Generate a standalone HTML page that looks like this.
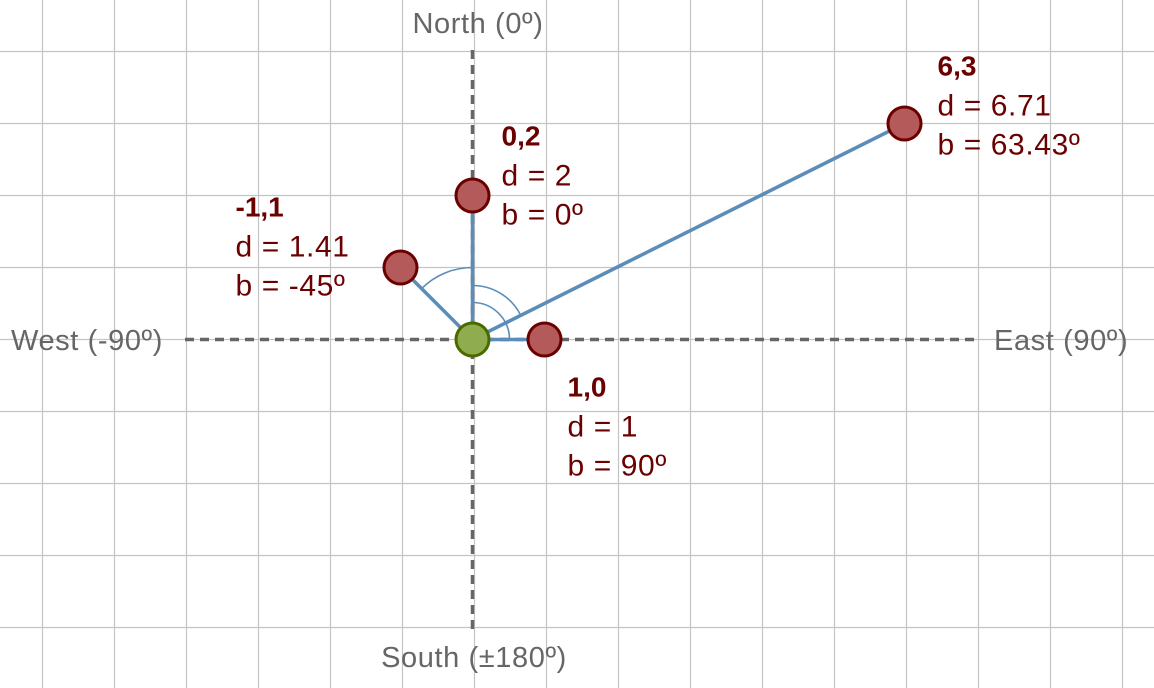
<!DOCTYPE html>
<html><head><meta charset="utf-8"><style>
html,body{margin:0;padding:0;background:#fff;}
svg{display:block;font-family:"Liberation Sans",sans-serif;}
</style></head><body>
<svg id="chart" width="1154" height="688" viewBox="0 0 1154 688">
<g id="grid"></g>
<line x1="185" y1="339.5" x2="978" y2="339.5" stroke="#666" stroke-width="3.5" stroke-dasharray="9,6"/>
<line x1="472.5" y1="50" x2="472.5" y2="632" stroke="#666" stroke-width="3.5" stroke-dasharray="9,6"/>
<text x="478" y="33" text-anchor="middle" font-size="29" letter-spacing="0.6" fill="#666">North (0º)</text>
<text x="474" y="667" text-anchor="middle" font-size="29" letter-spacing="0.6" fill="#666">South (±180º)</text>
<text x="11" y="350" font-size="29" letter-spacing="0.6" fill="#666">West (-90º)</text>
<text x="994" y="350" font-size="29" letter-spacing="0.6" fill="#666">East (90º)</text>
<g id="arcs"></g>
<g id="lines"></g>
<g id="points"></g>
<g id="labels"></g>
</svg>
<script>
const xs=[6,0,-1,1];
const ys=[3,2,1,0];
const dists=["6.71","2","1.41","1"];
const bearings=["63.43","0","-45","90"];
const arcRadii=[54,0,72,37];
const labelOffsets=[[33,-48],[29,-50],[-165,-51],[23,57]];
const NS="http://www.w3.org/2000/svg";
const ox=472.5, oy=339.5, U=72;
const sx=v=>ox+v*U, sy=v=>oy-v*U;
function mk(t,a,p){const e=document.createElementNS(NS,t);for(const k in a)e.setAttribute(k,a[k]);p.appendChild(e);return e;}
const grid=document.getElementById('grid');
for(let x=42.5;x<1154;x+=72){const l=mk('line',{x1:x,y1:0,x2:x,y2:688,stroke:'#c4c4c4','stroke-width':1.2},grid);

}
for(let y=51.5;y<688;y+=72){const l=mk('line',{x1:0,y1:y,x2:1154,y2:y,stroke:'#c4c4c4','stroke-width':1.2},grid);

}
const arcs=document.getElementById('arcs'),lines=document.getElementById('lines'),pts=document.getElementById('points'),labs=document.getElementById('labels');
xs.forEach((xv,i)=>{
 const px=sx(xv),py=sy(ys[i]);
 const ln=mk('line',{x1:ox,y1:oy,x2:px,y2:py,stroke:'#5b8db8','stroke-width':3.5},lines);
 
 
 const r=arcRadii[i];
 const b=parseFloat(bearings[i])*Math.PI/180;
 if(r>0&&b!==0){
  const ex=ox+r*Math.sin(b),ey=oy-r*Math.cos(b);
  const a=mk('path',{d:`M${ox} ${oy-r} A${r} ${r} 0 0 ${b>0?1:0} ${ex} ${ey}`,fill:'none',stroke:'#5b8db8','stroke-width':1.6},arcs);
  
  
 }
});
xs.forEach((xv,i)=>{
 const px=sx(xv),py=sy(ys[i]);
 const c=mk('circle',{cx:px,cy:py,r:16.5,fill:'#b55a5a',stroke:'#6b0000','stroke-width':3},pts);
 
 
 const lx=px+labelOffsets[i][0],ly=py+labelOffsets[i][1];
 const t1=mk('text',{x:lx,y:ly,'font-size':28,'font-weight':'bold',fill:'#6b0000'},labs);t1.textContent=xv+','+ys[i];
 
 
 const t2=mk('text',{x:lx,y:ly+40,'font-size':30,'letter-spacing':0.6,fill:'#6b0000'},labs);t2.textContent='d = '+dists[i];
 
 
 const t3=mk('text',{x:lx,y:ly+79,'font-size':30,'letter-spacing':0.6,fill:'#6b0000'},labs);t3.textContent='b = '+bearings[i]+'º';
 
 
});
const o=mk('circle',{cx:ox,cy:oy,r:16.5,fill:'#8fad4f',stroke:'#4a6a00','stroke-width':3},pts);


</script>
</body></html>
